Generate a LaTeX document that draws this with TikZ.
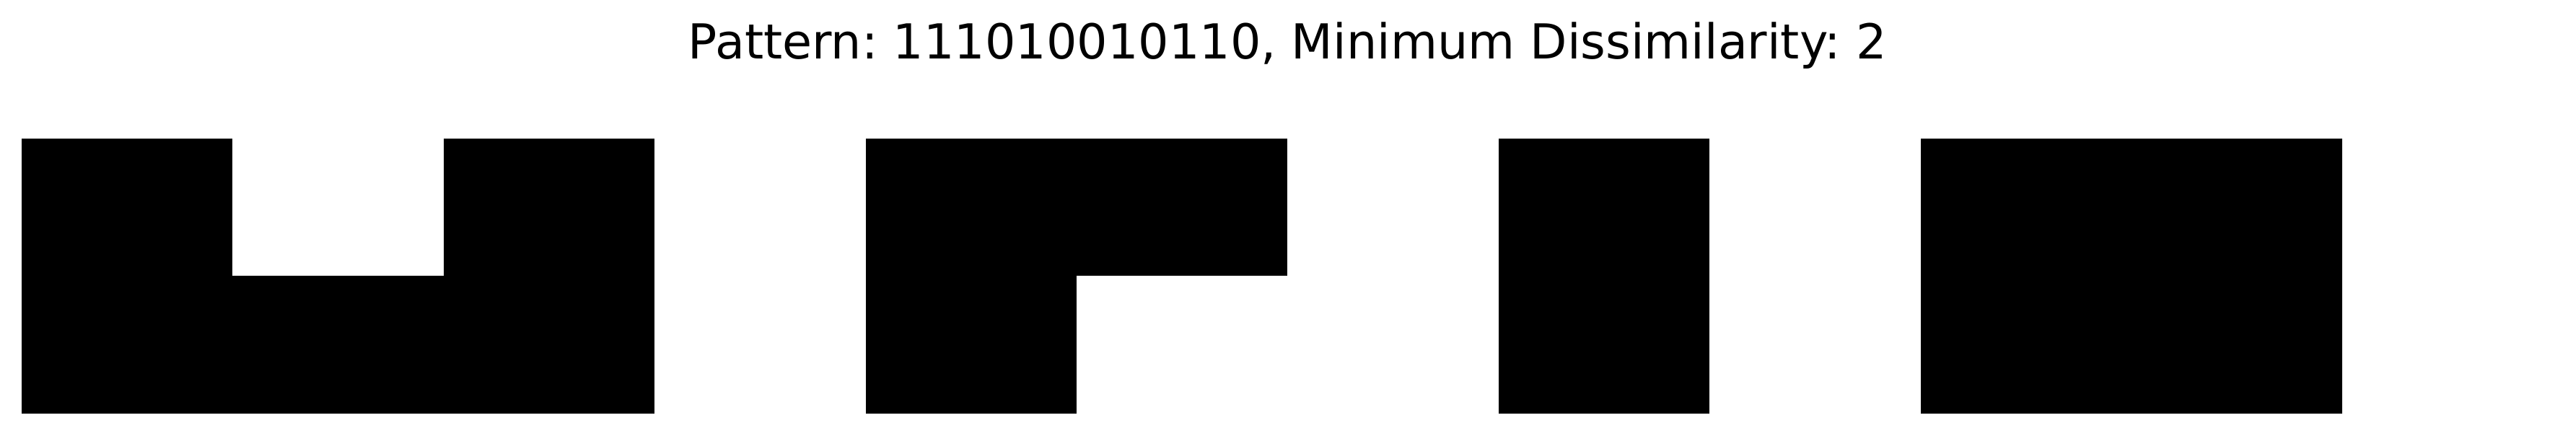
\documentclass[tikz,border=0pt]{standalone}
\usepackage{fontspec}
\setmainfont{DejaVu Sans}
\usetikzlibrary{positioning}

\begin{document}
\frenchspacing
\begin{tikzpicture}[
    cellon/.style={fill=black,draw=none},
    ttl/.style={anchor=base,inner sep=0pt,font=\fontsize{19}{22}\selectfont}]
  \useasboundingbox (0,0) rectangle (35.7,6.03);
  % two rows of the pattern, 12 columns each
  \def\cw{2.924}
  \def\rh{1.903}
  \foreach \b [count=\i from 0] in {1,0,1,0,1,1,0,1,0,1,1,0}{
    \ifnum\b=1 \fill[cellon] ({0.30+\i*\cw},{0.303+\rh}) rectangle ++(\cw,\rh); \fi
  }
  \foreach \b [count=\i from 0] in {1,1,1,0,1,0,0,1,0,1,1,0}{
    \ifnum\b=1 \fill[cellon] ({0.30+\i*\cw},0.303) rectangle ++(\cw,\rh); \fi
  }
  \node[ttl] (title) at (17.845,5.213) {Pattern: 111010010110, Minimum Dissimilarity: 2};
\end{tikzpicture}
\end{document}
